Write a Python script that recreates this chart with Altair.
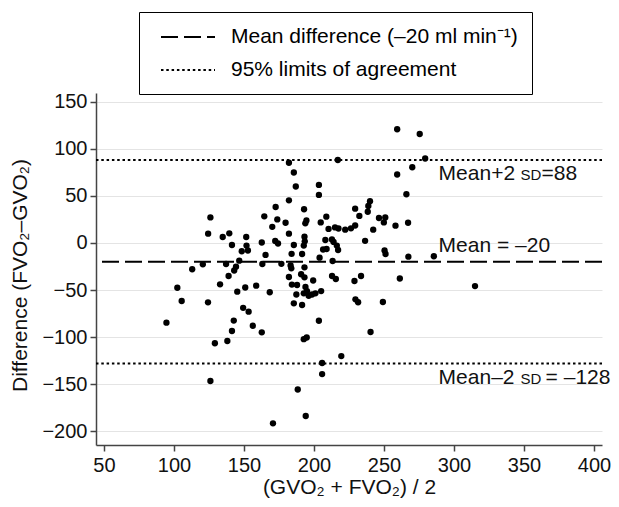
import altair as alt
import pandas as pd

# ---- data ----
avg_vo2 = [182.1, 185.6, 187.0, 182.1, 172.6, 192.9, 203.5, 203.5, 217.0, 259.4,
           275.5, 279.4, 270.2, 259.4, 266.0, 240.0, 238.8, 238.4, 229.4, 126.0,
           164.5, 173.8, 179.7, 194.6, 193.8, 170.2, 204.8, 208.8, 232.4, 246.4,
           250.9, 249.9, 258.2, 267.2, 242.3, 210.4, 215.0, 217.5, 222.3, 226.4,
           229.4, 124.4, 134.8, 139.5, 141.4, 151.6, 151.8, 152.8, 148.4, 162.7,
           165.4, 172.3, 174.3, 182.1, 185.6, 184.0, 193.2, 193.4, 192.7, 191.5,
           236.5, 208.1, 212.8, 214.0, 206.5, 209.0, 216.3, 217.2, 250.4, 251.1,
           204.0, 267.4, 285.6, 213.3, 113.0, 120.6, 137.2, 146.6, 144.3, 143.0,
           163.1, 176.7, 183.3, 183.8, 193.2, 139.0, 132.9, 102.4, 105.5, 124.3,
           145.2, 150.9, 158.7, 168.4, 149.4, 153.3, 182.1, 184.2, 187.9, 190.8,
           193.2, 199.4, 193.9, 195.0, 192.7, 187.4, 198.6, 201.0, 196.2, 205.1,
           185.6, 191.5, 212.9, 215.6, 228.9, 233.6, 261.3, 315.0, 229.6, 231.5,
           249.2, 94.6, 142.7, 141.4, 156.3, 162.7, 129.2, 138.1, 126.0, 170.7,
           203.5, 192.7, 194.8, 205.8, 205.8, 188.4, 194.1, 219.5, 240.4]
diff_vo2 = [85.2, 74.8, 60.0, 45.3, 38.2, 35.8, 61.6, 51.0, 88.1, 120.7,
            115.7, 89.7, 80.4, 72.7, 51.7, 44.3, 39.3, 33.2, 36.4, 27.1,
            28.3, 25.0, 21.5, 23.9, 20.9, 17.2, 21.8, 27.9, 28.7, 26.5,
            27.1, 21.8, 18.4, 21.5, 14.1, 14.9, 16.5, 15.4, 14.1, 15.6,
            18.6, 9.9, 6.4, 10.3, -2.1, 6.4, -2.7, -8.0, -8.8, 0.5,
            -12.7, 2.1, -0.5, 9.9, -2.1, -11.5, 6.7, 1.8, -2.7, -11.7,
            2.3, 3.2, 3.7, 1.1, -6.9, -6.4, -2.7, -7.4, -8.0, -11.7,
            -15.6, -14.5, -14.1, -19.1, -27.9, -22.6, -22.3, -18.8, -25.2, -29.2,
            -22.3, -22.1, -23.9, -26.9, -25.8, -35.0, -43.9, -47.5, -61.6, -63.0,
            -51.7, -47.2, -45.3, -52.3, -68.8, -72.9, -36.1, -44.1, -44.6, -33.2,
            -36.4, -39.8, -46.7, -51.0, -53.4, -54.7, -54.7, -53.4, -56.0, -51.0,
            -64.0, -65.8, -35.0, -38.2, -40.3, -35.0, -37.7, -45.7, -59.8, -62.9,
            -62.6, -84.6, -82.3, -93.4, -87.8, -94.8, -106.4, -104.0, -146.5, -191.4,
            -82.5, -102.1, -100.3, -127.4, -139.1, -155.5, -183.6, -120.0, -94.5]

series_names = ["Mean difference (–20 ml min\u207b\u00b9)", "95% limits of agreement"]
line_values = [-20, 88, -128]
line_series = [series_names[0], series_names[1], series_names[1]]

ann_x = [289, 289]
ann_y_below = [88, -128]
ann_head_below = ["Mean+2", "Mean–2"]
ann_sd_below = ["SD", "SD"]
ann_tail_below = ["=88", "= –128"]
ann_spaced = [0, 1]
ann_y_above = [-20]
ann_text_above = ["Mean = –20"]

x_ticks = [50, 100, 150, 200, 250, 300, 350, 400]
y_ticks = [-200, -150, -100, -50, 0, 50, 100, 150]

# ---- tables ----
points = pd.DataFrame({"avg": avg_vo2, "diff": diff_vo2})
lines = pd.DataFrame({"value": line_values, "series": line_series})
below = pd.DataFrame({"x": ann_x, "y": ann_y_below, "head": ann_head_below,
                      "sd": ann_sd_below, "tail": ann_tail_below, "spaced": ann_spaced})
above = pd.DataFrame({"x": ann_x[:1], "y": ann_y_above, "text": ann_text_above})

FONT = "Liberation Sans"
xs = alt.Scale(domain=[44.3, 405.7], nice=False, zero=False)
ys = alt.Scale(domain=[-214.4, 159.2], nice=False, zero=False)

x_axis = alt.Axis(values=x_ticks, title="(GVO\u2082 + FVO\u2082) / 2", grid=False,
                  titleY=48, titleBaseline="alphabetic", labelPadding=4)
y_axis = alt.Axis(values=y_ticks, title="Difference (FVO\u2082–GVO\u2082)", grid=True,
                  titleX=-76, titleY=182, titleBaseline="middle", labelPadding=3)

rules = alt.Chart(lines).mark_rule(color="black", strokeWidth=2).encode(
    y=alt.Y("value:Q", scale=ys, axis=y_axis),
    strokeDash=alt.StrokeDash(
        "series:N",
        scale=alt.Scale(domain=series_names, range=[[17, 6], [2.5, 2.8]]),
        legend=alt.Legend(
            title=None, orient="none", legendX=43, legendY=-81,
            labelFontSize=21, labelFont=FONT, labelColor="black",
            symbolType="M-0.3,0H5.1", symbolSize=400, symbolStrokeWidth=2,
            symbolStrokeColor="black", strokeColor="black", fillColor="white",
            padding=14, rowPadding=12, labelOffset=56, labelLimit=500,
        ),
    ),
)

pts = alt.Chart(points).mark_circle(size=40, color="black", opacity=1).encode(
    x=alt.X("avg:Q", scale=xs, axis=x_axis),
    y=alt.Y("diff:Q", scale=ys, axis=y_axis),
)

def ann_text(data, field, size, dx, dy):
    return alt.Chart(data).mark_text(font=FONT, fontSize=size, align="left",
                                     baseline="alphabetic", dx=dx, dy=dy,
                                     color="#111").encode(
        x=alt.X("x:Q", scale=xs), y=alt.Y("y:Q", scale=ys), text=f"{field}:N")

head_b = ann_text(below, "head", 21, 0, 20)
sd_b = ann_text(below, "sd", 15, 82, 20)
tail_b1 = ann_text(below, "tail", 21, 103, 20).transform_filter(alt.datum.spaced == 0)
tail_b2 = ann_text(below, "tail", 21, 107, 20).transform_filter(alt.datum.spaced == 1)
text_a = ann_text(above, "text", 21, 0, -10)

chart = alt.layer(rules, pts, head_b, sd_b, tail_b1, tail_b2, text_a).properties(
    width=506, height=352,
    autosize=alt.AutoSizeParams(type="none"),
    padding={"left": 88, "top": 85, "right": 9, "bottom": 54},
).configure_view(strokeWidth=0).configure_axis(
    domainColor="#444", domainWidth=1.5, tickColor="#444", tickWidth=1.5, tickSize=6,
    labelFont=FONT, labelFontSize=20, labelColor="#111",
    titleFont=FONT, titleFontSize=21, titleFontWeight="normal", titleColor="#111",
    gridColor="#e4e4e4", gridWidth=1,
)

chart.save("out.html", embed_options={"renderer": "svg", "actions": False})
